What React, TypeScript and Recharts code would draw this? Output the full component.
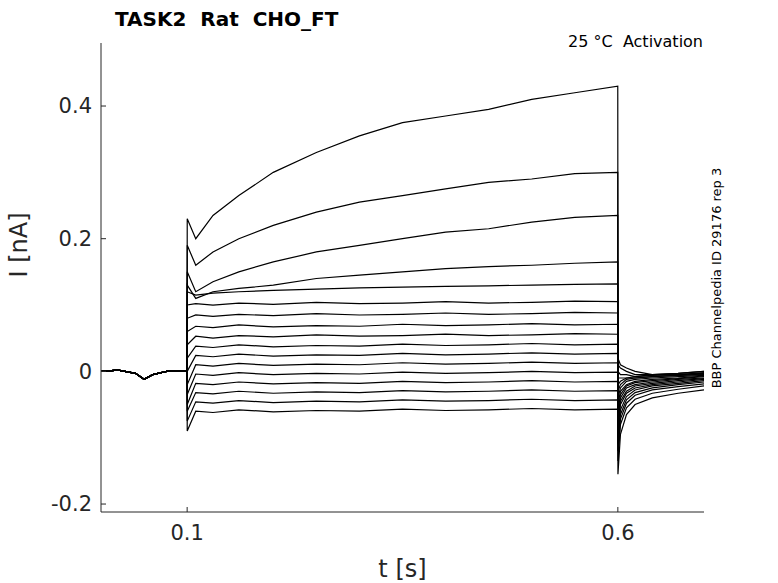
import { LineChart, Line, XAxis, YAxis } from 'recharts';

// time points (s)
const preTimes = [0, 0.02, 0.04, 0.05, 0.06, 0.08, 0.0999];
const stepTimes = [0.1001, 0.11, 0.13, 0.16, 0.2, 0.25, 0.3, 0.35, 0.4, 0.45, 0.5, 0.55, 0.5999];
const tailTimes = [0.6001, 0.603, 0.61, 0.62, 0.64, 0.67, 0.7];

// holding baseline, all sweeps overlap here
const baseline = [0, 0.002, -0.003, -0.012, -0.005, 0.001, 0];

// current during the test pulse (nA), top sweep first
const stepCurrents = [
  [0.23, 0.2, 0.235, 0.265, 0.3, 0.33, 0.355, 0.375, 0.385, 0.395, 0.41, 0.42, 0.43],
  [0.19, 0.16, 0.18, 0.2, 0.22, 0.24, 0.255, 0.265, 0.275, 0.285, 0.29, 0.298, 0.3],
  [0.15, 0.12, 0.135, 0.15, 0.165, 0.18, 0.19, 0.2, 0.21, 0.215, 0.225, 0.232, 0.235],
  [0.13, 0.11, 0.12, 0.125, 0.13, 0.14, 0.145, 0.15, 0.155, 0.158, 0.16, 0.163, 0.165],
  [0.12, 0.115, 0.118, 0.12, 0.122, 0.124, 0.126, 0.127, 0.128, 0.129, 0.13, 0.131, 0.132],
  [0.1, 0.102, 0.1, 0.103, 0.101, 0.104, 0.102, 0.103, 0.105, 0.103, 0.104, 0.106, 0.105],
  [0.08, 0.085, 0.083, 0.086, 0.084, 0.087, 0.085, 0.086, 0.088, 0.086, 0.087, 0.089, 0.088],
  [0.06, 0.068, 0.066, 0.07, 0.067, 0.069, 0.068, 0.071, 0.069, 0.07, 0.072, 0.07, 0.071],
  [0.04, 0.053, 0.05, 0.054, 0.052, 0.055, 0.053, 0.054, 0.056, 0.054, 0.055, 0.057, 0.056],
  [0.02, 0.038, 0.036, 0.04, 0.037, 0.039, 0.038, 0.041, 0.039, 0.04, 0.042, 0.04, 0.041],
  [0, 0.024, 0.022, 0.026, 0.023, 0.025, 0.024, 0.027, 0.025, 0.026, 0.028, 0.026, 0.027],
  [-0.02, 0.01, 0.008, 0.012, 0.009, 0.011, 0.01, 0.013, 0.011, 0.012, 0.014, 0.012, 0.013],
  [-0.035, -0.004, -0.006, -0.002, -0.005, -0.003, -0.004, -0.001, -0.003, -0.002, 0, -0.002, -0.001],
  [-0.05, -0.018, -0.02, -0.016, -0.019, -0.017, -0.018, -0.015, -0.017, -0.016, -0.014, -0.016, -0.015],
  [-0.06, -0.032, -0.034, -0.03, -0.033, -0.031, -0.032, -0.029, -0.031, -0.03, -0.028, -0.03, -0.029],
  [-0.075, -0.046, -0.048, -0.044, -0.047, -0.045, -0.046, -0.043, -0.045, -0.044, -0.042, -0.044, -0.043],
  [-0.09, -0.06, -0.062, -0.058, -0.061, -0.059, -0.06, -0.057, -0.059, -0.058, -0.056, -0.058, -0.057],
];

// tail currents after the pulse
const tailCurrents = [
  [0.02, 0.01, 0.005, 0, -0.005, -0.003, 0],
  [0.01, 0.005, 0, -0.005, -0.005, -0.003, 0],
  [0, -0.005, -0.005, -0.008, -0.005, -0.005, -0.002],
  [-0.01, -0.01, -0.01, -0.008, -0.006, -0.005, -0.003],
  [-0.02, -0.015, -0.01, -0.01, -0.008, -0.006, -0.004],
  [-0.03, -0.02, -0.012, -0.01, -0.008, -0.006, -0.005],
  [-0.04, -0.025, -0.015, -0.012, -0.01, -0.008, -0.006],
  [-0.05, -0.03, -0.02, -0.015, -0.012, -0.01, -0.007],
  [-0.06, -0.035, -0.022, -0.017, -0.014, -0.011, -0.008],
  [-0.07, -0.04, -0.025, -0.02, -0.016, -0.012, -0.01],
  [-0.08, -0.045, -0.03, -0.022, -0.018, -0.014, -0.011],
  [-0.09, -0.05, -0.033, -0.025, -0.02, -0.016, -0.012],
  [-0.1, -0.058, -0.038, -0.028, -0.022, -0.018, -0.014],
  [-0.11, -0.065, -0.043, -0.032, -0.025, -0.02, -0.016],
  [-0.12, -0.072, -0.048, -0.036, -0.028, -0.023, -0.019],
  [-0.135, -0.08, -0.055, -0.042, -0.033, -0.027, -0.022],
  [-0.155, -0.095, -0.065, -0.05, -0.04, -0.033, -0.028],
];

const xTicks = [0.1, 0.6];
const yTicks = [-0.2, 0, 0.2, 0.4];

const times = [...preTimes, ...stepTimes, ...tailTimes];
const rows = times.map((t, i) => {
  const row: Record<string, number> = { t };
  stepCurrents.forEach((_, k) => {
    const full = [...baseline, ...stepCurrents[k], ...tailCurrents[k]];
    row['s' + k] = full[i];
  });
  return row;
});

const font = 'DejaVu Sans, sans-serif';

export default function App() {
  return (
    <div style={{ position: 'absolute', left: 0, top: 0, width: 778, height: 583, background: '#fff', fontFamily: font }}>
      <LineChart width={778} height={583} data={rows} margin={{ top: 43, right: 74, left: 0, bottom: 0 }}>
        <XAxis
          dataKey="t"
          type="number"
          domain={[0, 0.7]}
          ticks={xTicks}
          tickFormatter={(v) => String(v)}
          height={71}
          stroke="#262626"
          tickSize={-5}
          tick={{ fill: '#262626', fontSize: 21, fontFamily: font, dy: 16 }}
          label={{ value: 't [s]', position: 'insideBottom', offset: 6, fill: '#262626', fontSize: 24, fontFamily: font }}
        />
        <YAxis
          type="number"
          domain={[-0.212, 0.495]}
          ticks={yTicks}
          tickFormatter={(v) => String(v)}
          allowDataOverflow
          width={101}
          stroke="#262626"
          tickSize={-5}
          tick={{ fill: '#262626', fontSize: 21, fontFamily: font, dx: -12 }}
          label={{ value: 'I [nA]', angle: -90, position: 'insideLeft', offset: 18, fill: '#262626', fontSize: 24, fontFamily: font }}
        />
        {stepCurrents.map((_, k) => (
          <Line
            key={k}
            dataKey={'s' + k}
            type="linear"
            stroke="#000"
            strokeWidth={1.2}
            dot={false}
            isAnimationActive={false}
          />
        ))}
        <text x={115} y={26} fontSize={20} fontWeight="bold" fontFamily={font} fill="#000" style={{ whiteSpace: 'pre' }}>{'TASK2  Rat  CHO_FT'}</text>
        <text x={703} y={47} textAnchor="end" fontSize={16} fontFamily={font} fill="#000" style={{ whiteSpace: 'pre' }}>{'25 °C  Activation'}</text>
        <text x={721} y={278} textAnchor="middle" fontSize={13} fontFamily={font} fill="#000" transform="rotate(-90 721 278)">BBP Channelpedia ID 29176 rep 3</text>
      </LineChart>
    </div>
  );
}
